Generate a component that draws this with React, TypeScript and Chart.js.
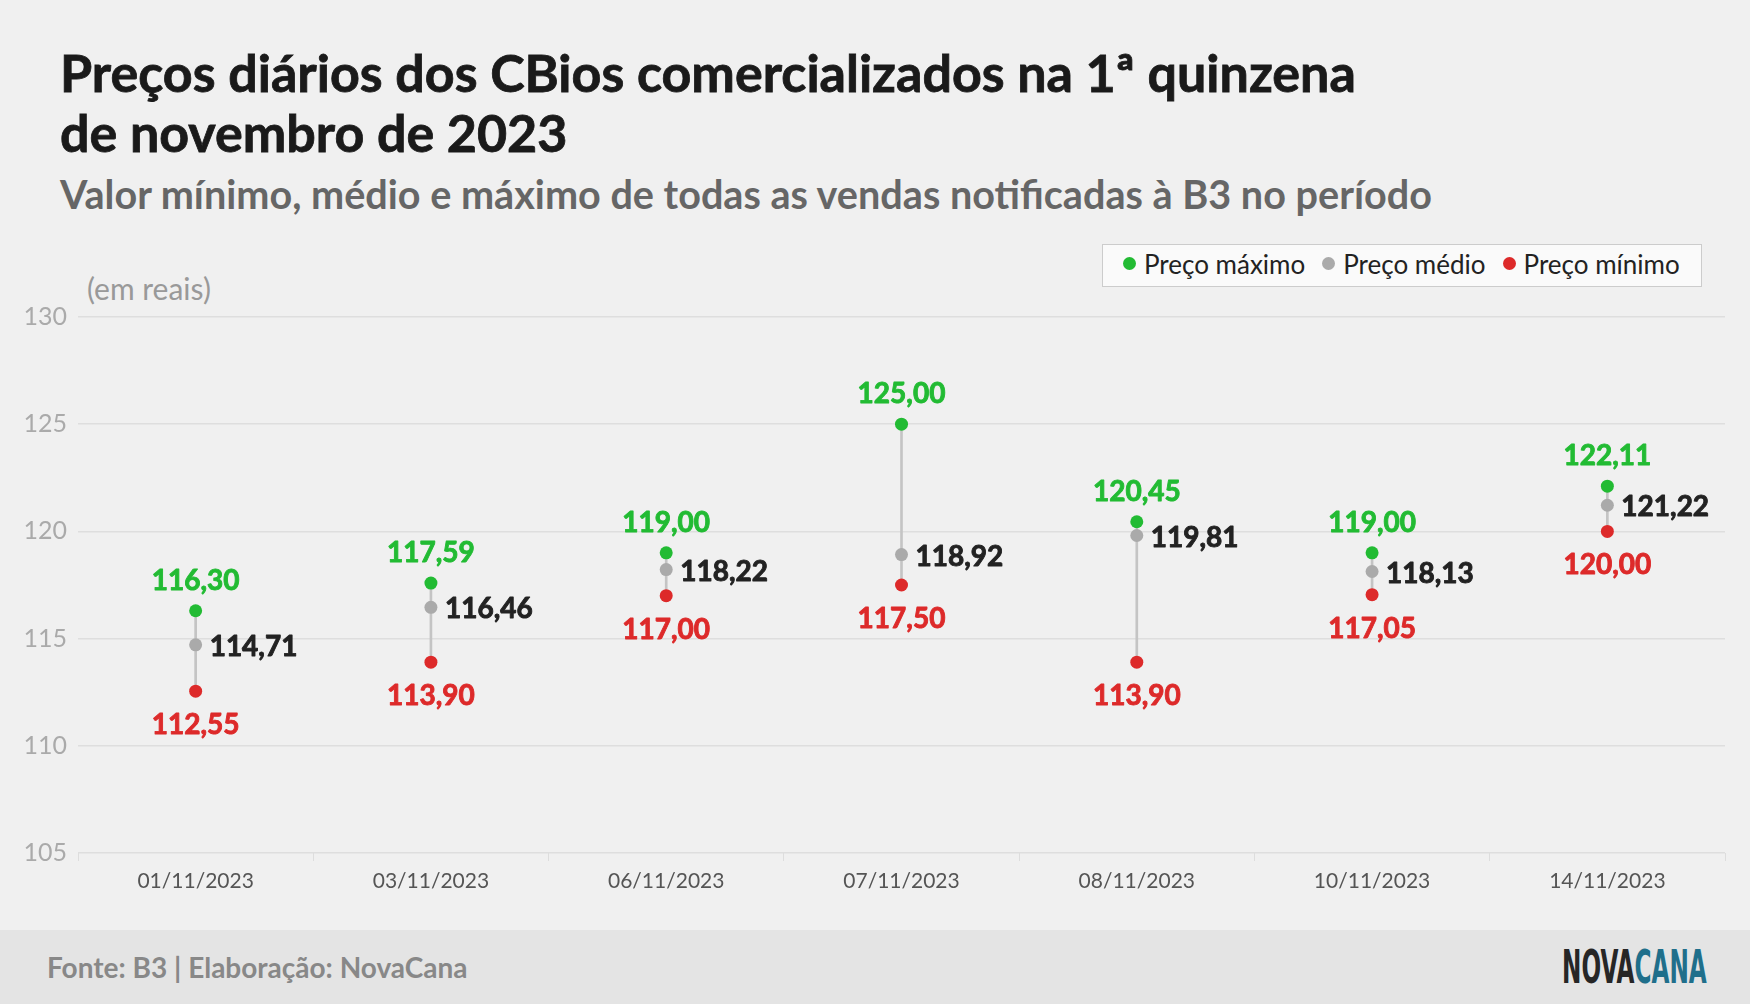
import React, {useEffect, useRef} from "react";
import {Chart, registerables} from "chart.js";

Chart.register(...registerables);

const dates = ["01/11/2023", "03/11/2023", "06/11/2023", "07/11/2023", "08/11/2023", "10/11/2023", "14/11/2023"];
const maxPrices = [116.30, 117.59, 119.00, 125.00, 120.45, 119.00, 122.11];
const avgPrices = [114.71, 116.46, 118.22, 118.92, 119.81, 118.13, 121.22];
const minPrices = [112.55, 113.90, 117.00, 117.50, 113.90, 117.05, 120.00];
const yTicks = [105, 110, 115, 120, 125, 130];

const GREEN = "#22bb33";
const GREY = "#aaaaaa";
const RED = "#dd2a2a";
const FONT = "Lato, 'Noto Sans', sans-serif";

const fmt = (v: number) => v.toFixed(2).replace(".", ",");

// draws the value next to each point (a thin stroke makes Lato Bold look heavier)
const valueLabels = {
    id: "valueLabels",
    afterDatasetsDraw(chart: any) {
        const ctx = chart.ctx;
        ctx.save();
        ctx.font = `bold 28px ${FONT}`;
        ctx.textBaseline = "middle";
        ctx.lineWidth = 0.9;
        ctx.lineJoin = "round";
        chart.data.datasets.forEach((ds: any, i: number) => {
            if (!ds.labelPos) return;
            const meta = chart.getDatasetMeta(i);
            meta.data.forEach((pt: any, j: number) => {
                const text = fmt(ds.data[j]);
                ctx.fillStyle = ds.labelColor;
                ctx.strokeStyle = ds.labelColor;
                let x = pt.x;
                let y = pt.y;
                if (ds.labelPos === "top") {
                    ctx.textAlign = "center";
                    y -= 30;
                } else if (ds.labelPos === "bottom") {
                    ctx.textAlign = "center";
                    y += 34;
                } else {
                    ctx.textAlign = "left";
                    x += 14;
                    y += 2;
                }
                ctx.fillText(text, x, y);
                ctx.strokeText(text, x, y);
            });
        });
        ctx.restore();
    },
};

const PriceChart: React.FC = () => {
    const canvasRef = useRef<HTMLCanvasElement | null>(null);

    useEffect(() => {
        if (!canvasRef.current) return;
        const ctx = canvasRef.current.getContext("2d");
        if (!ctx) return;

        const chart = new Chart(ctx, {
            type: "bar",
            data: {
                labels: dates,
                datasets: [
                    {
                        type: "line",
                        label: "Preço máximo",
                        data: maxPrices,
                        showLine: false,
                        pointRadius: 6.5,
                        pointBackgroundColor: GREEN,
                        pointBorderWidth: 0,
                        order: 1,
                        labelPos: "top",
                        labelColor: GREEN,
                    } as any,
                    {
                        type: "line",
                        label: "Preço médio",
                        data: avgPrices,
                        showLine: false,
                        pointRadius: 6.5,
                        pointBackgroundColor: GREY,
                        pointBorderWidth: 0,
                        order: 1,
                        labelPos: "right",
                        labelColor: "#222222",
                    } as any,
                    {
                        type: "line",
                        label: "Preço mínimo",
                        data: minPrices,
                        showLine: false,
                        pointRadius: 6.5,
                        pointBackgroundColor: RED,
                        pointBorderWidth: 0,
                        order: 1,
                        labelPos: "bottom",
                        labelColor: RED,
                    } as any,
                    {
                        type: "bar",
                        label: "range",
                        data: minPrices.map((v, i) => [v, maxPrices[i]]),
                        backgroundColor: "#c4c4c4",
                        barThickness: 2,
                        order: 10,
                    } as any,
                ],
            },
            options: {
                responsive: false,
                animation: false,
                layout: {padding: {top: 27, right: 25, left: 0, bottom: 0}},
                plugins: {
                    legend: {display: false},
                    tooltip: {enabled: false},
                },
                scales: {
                    x: {
                        offset: true,
                        border: {display: false},
                        grid: {
                            offset: true,
                            drawOnChartArea: false,
                            drawTicks: true,
                            tickLength: 8,
                            color: "#dddddd",
                        },
                        ticks: {
                            color: "#555555",
                            font: {family: FONT, size: 21},
                            padding: 8,
                        },
                        afterFit: (s: any) => {
                            s.height = 77;
                        },
                    },
                    y: {
                        min: 105,
                        max: 130,
                        border: {display: false},
                        grid: {
                            color: "#dedede",
                            lineWidth: 1.5,
                            drawTicks: false,
                        },
                        afterBuildTicks: (s: any) => {
                            s.ticks = yTicks.map((v) => ({value: v}));
                        },
                        ticks: {
                            color: "#aaaaaa",
                            font: {family: FONT, size: 25},
                            padding: 11,
                        },
                        afterFit: (s: any) => {
                            s.width = 78;
                        },
                    },
                },
            },
            plugins: [valueLabels],
        });

        return () => {
            chart.destroy();
        };
    }, []);

    return (
        <canvas
            ref={canvasRef}
            width={1750}
            height={640}
            style={{position: "absolute", left: 0, top: 290, width: 1750, height: 640}}
        />
    );
};

const Dot: React.FC<{color: string}> = ({color}) => (
    <span style={{
        display: "inline-block", width: 13, height: 13, borderRadius: "50%",
        background: color, marginRight: 8, verticalAlign: "middle", position: "relative", top: -1,
    }}/>
);

export default function App() {
    useEffect(() => {
        document.body.style.margin = "0";
    }, []);

    return (
        <div style={{
            position: "absolute", left: 0, top: 0, width: 1750, height: 1004,
            background: "#f0f0f0", fontFamily: FONT, overflow: "hidden",
        }}>
            <div style={{
                position: "absolute", left: 60, top: 42, fontSize: 52, lineHeight: "60px",
                fontWeight: 700, color: "#1a1a1a", whiteSpace: "nowrap",
                WebkitTextStroke: "0.8px #1a1a1a",
            }}>
                Preços diários dos CBios comercializados na 1ª quinzena<br/>de novembro de 2023
            </div>
            <div style={{
                position: "absolute", left: 60, top: 172, fontSize: 39.6, lineHeight: "44px",
                fontWeight: 700, color: "#666666", whiteSpace: "nowrap",
            }}>
                Valor mínimo, médio e máximo de todas as vendas notificadas à B3 no período
            </div>
            <div style={{
                position: "absolute", left: 87, top: 270, fontSize: 30, lineHeight: "36px",
                color: "#999999",
            }}>
                (em reais)
            </div>
            <div style={{
                position: "absolute", left: 1102, top: 244, width: 600, height: 43, boxSizing: "border-box",
                background: "#fafafa", border: "1px solid #cccccc", display: "flex", alignItems: "center",
                paddingLeft: 20, paddingBottom: 3, fontSize: 26, color: "#222222", whiteSpace: "nowrap",
            }}>
                <Dot color={GREEN}/><span style={{marginRight: 17}}>Preço máximo</span>
                <Dot color={GREY}/><span style={{marginRight: 17}}>Preço médio</span>
                <Dot color={RED}/><span>Preço mínimo</span>
            </div>
            <PriceChart/>
            <div style={{
                position: "absolute", left: 0, top: 930, width: 1750, height: 74, background: "#e4e4e4",
            }}>
                <div style={{
                    position: "absolute", left: 47, top: 20, fontSize: 28, lineHeight: "34px",
                    fontWeight: 700, color: "#888888", whiteSpace: "nowrap",
                }}>
                    Fonte: B3 | Elaboração: NovaCana
                </div>
                <div style={{
                    position: "absolute", left: 1562, top: 14, fontSize: 46, lineHeight: "46px",
                    fontWeight: 700, fontFamily: "'Liberation Sans Narrow', 'DejaVu Sans Condensed', sans-serif",
                    transform: "scaleX(0.56)", transformOrigin: "left center", whiteSpace: "nowrap",
                }}>
                    <span style={{color: "#262626"}}>NOVA</span><span style={{color: "#1f6f8b"}}>CANA</span>
                </div>
            </div>
        </div>
    );
}
